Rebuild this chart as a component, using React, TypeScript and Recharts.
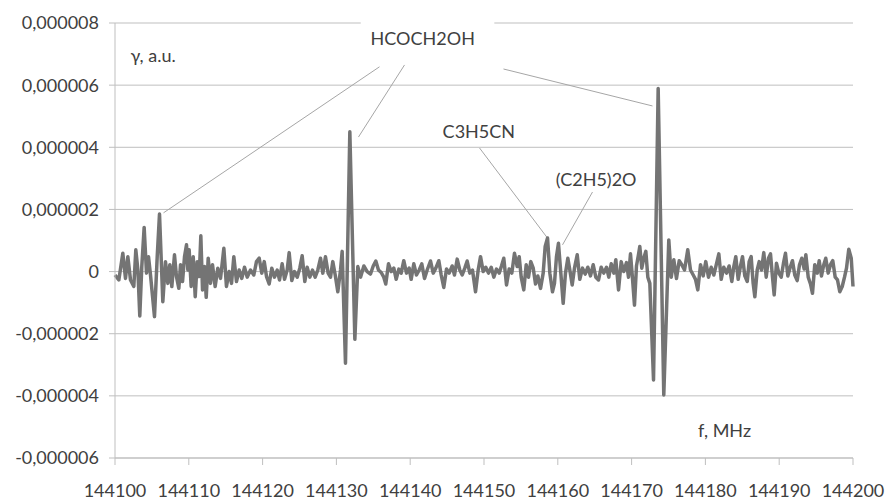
import { LineChart, Line, XAxis, YAxis, CartesianGrid, ReferenceLine, ReferenceDot, ReferenceArea } from 'recharts';

// frequency, MHz
const freqs = [
  144100.0, 144100.52, 144101.06, 144101.42, 144101.74, 144102.1, 144102.55, 144102.82, 144103.1, 144103.36,
  144103.63, 144103.95, 144104.27, 144104.54, 144104.81, 144105.35, 144105.72, 144106.03, 144106.48, 144106.84,
  144107.16, 144107.43, 144107.7, 144108.06, 144108.33, 144108.65, 144108.88, 144109.15, 144109.42, 144109.69,
  144109.87, 144110.05, 144110.32, 144110.6, 144110.87, 144111.14, 144111.41, 144111.63, 144111.86, 144112.13,
  144112.36, 144112.63, 144112.94, 144113.21, 144113.57, 144113.93, 144114.3, 144114.75, 144115.1, 144115.47,
  144115.79, 144116.1, 144116.46, 144116.83, 144117.18, 144117.55, 144117.91, 144118.36, 144118.81, 144119.17,
  144119.54, 144119.89, 144120.22, 144120.53, 144120.89, 144121.25, 144121.61, 144121.98, 144122.29, 144122.65,
  144122.97, 144123.33, 144123.6, 144123.96, 144124.32, 144124.69, 144125.04, 144125.36, 144125.72, 144126.04,
  144126.4, 144126.76, 144127.12, 144127.48, 144127.85, 144128.16, 144128.52, 144128.88, 144129.2, 144129.51,
  144129.84, 144130.19, 144130.56, 144130.78, 144131.23, 144131.82, 144132.5, 144132.9, 144133.27, 144133.72,
  144134.17, 144134.62, 144134.99, 144135.34, 144135.7, 144136.07, 144136.42, 144136.69, 144137.06, 144137.43,
  144137.78, 144138.1, 144138.46, 144138.78, 144139.13, 144139.5, 144139.86, 144140.13, 144140.49, 144140.85,
  144141.22, 144141.57, 144141.94, 144142.3, 144142.75, 144143.12, 144143.47, 144143.88, 144144.2, 144144.55,
  144144.92, 144145.28, 144145.69, 144146.0, 144146.37, 144146.72, 144147.05, 144147.4, 144147.72, 144148.08,
  144148.44, 144148.85, 144149.21, 144149.53, 144149.89, 144150.24, 144150.61, 144150.98, 144151.33, 144151.69,
  144152.06, 144152.37, 144152.68, 144153.05, 144153.41, 144153.77, 144154.13, 144154.5, 144154.77, 144155.04,
  144155.39, 144155.72, 144156.03, 144156.34, 144156.67, 144156.98, 144157.29, 144157.66, 144158.02, 144158.29,
  144158.61, 144158.92, 144159.28, 144159.55, 144159.82, 144160.09, 144160.41, 144160.73, 144161.04, 144161.36,
  144161.63, 144161.95, 144162.26, 144162.63, 144162.98, 144163.35, 144163.71, 144164.07, 144164.43, 144164.8,
  144165.15, 144165.52, 144165.88, 144166.23, 144166.6, 144166.91, 144167.24, 144167.59, 144167.86, 144168.23,
  144168.59, 144168.94, 144169.31, 144169.58, 144169.85, 144170.12, 144170.39, 144170.66, 144170.93, 144171.11,
  144171.38, 144171.65, 144171.93, 144172.2, 144172.47, 144172.97, 144173.6, 144174.36, 144175.04, 144175.37,
  144175.72, 144176.08, 144176.45, 144176.8, 144177.17, 144177.61, 144177.98, 144178.35, 144178.66, 144178.97,
  144179.34, 144179.7, 144180.05, 144180.42, 144180.79, 144181.14, 144181.5, 144181.82, 144182.14, 144182.49,
  144182.86, 144183.22, 144183.58, 144183.85, 144184.12, 144184.44, 144184.76, 144185.03, 144185.34, 144185.67,
  144185.93, 144186.2, 144186.47, 144186.7, 144187.02, 144187.29, 144187.6, 144187.91, 144188.24, 144188.55,
  144188.82, 144189.09, 144189.32, 144189.63, 144189.95, 144190.27, 144190.58, 144190.85, 144191.17, 144191.49,
  144191.8, 144192.11, 144192.44, 144192.75, 144193.06, 144193.39, 144193.61, 144193.93, 144194.24, 144194.51,
  144194.82, 144195.15, 144195.42, 144195.73, 144196.04, 144196.31, 144196.64, 144196.95, 144197.26, 144197.59,
  144197.9, 144198.21, 144198.54, 144198.85, 144199.12, 144199.43, 144199.76, 144200.0,
];

// gamma in units of 1e-6 a.u.
const gammaMicro = [
  -0.11, -0.27, 0.59, -0.22, 0.48, -0.27, -0.48, 0.7, 0.05, -1.43,
  0.16, 1.42, -0.05, 0.48, -0.11, -1.45, 0.48, 1.85, -0.97, 0.32,
  -0.38, 0.22, -0.48, 0.54, -0.16, -0.54, 0.22, -0.32, 0.48, 0.86,
  0.05, 0.7, -0.48, 0.48, -0.81, 0.32, -0.16, 1.15, -0.59, 0.16,
  -0.83, 0.43, -0.38, 0.22, -0.48, 0.11, -0.22, 0.75, -0.48, 0.0,
  -0.38, 0.48, -0.32, 0.05, -0.22, 0.14, -0.18, 0.05, -0.11, 0.32,
  0.43, -0.05, 0.32, -0.16, -0.4, 0.11, -0.18, 0.05, -0.27, 0.25,
  -0.25, 0.05, 0.61, -0.29, 0.0, -0.18, 0.11, 0.51, -0.32, 0.14,
  -0.18, 0.05, -0.18, 0.05, 0.43, -0.05, 0.48, -0.05, -0.18, 0.32,
  -0.11, -0.65, 0.05, 0.65, -2.95, 4.5, -2.18, 0.16, -0.18, 0.18,
  0.0, -0.08, 0.18, 0.34, 0.05, -0.03, -0.18, -0.4, 0.25, 0.0,
  0.11, -0.25, 0.08, -0.05, 0.35, -0.05, 0.11, -0.25, 0.25, -0.11,
  0.05, 0.25, -0.22, 0.05, 0.34, -0.05, 0.11, 0.35, -0.11, -0.51,
  0.08, -0.05, 0.18, -0.11, 0.4, 0.05, -0.11, 0.11, 0.34, -0.05,
  0.05, -0.65, 0.05, 0.48, 0.0, 0.14, -0.05, 0.14, -0.18, 0.08,
  -0.05, 0.18, 0.43, -0.43, 0.08, -0.05, 0.59, 0.16, 0.48, -0.18,
  -0.59, 0.22, -0.18, 0.32, 0.11, -0.4, -0.14, -0.54, -0.05, 0.81,
  1.08, -0.05, -0.65, -0.38, 0.48, 0.91, -0.05, -1.02, -0.05, 0.43,
  0.05, -0.43, 0.11, 0.54, -0.25, 0.11, -0.08, 0.14, -0.14, 0.22,
  -0.18, -0.27, 0.14, -0.05, 0.14, -0.18, 0.25, -0.05, 0.38, -0.59,
  0.32, 0.0, 0.29, -0.18, 0.57, -0.22, -1.08, 0.18, 0.54, 0.81,
  0.11, 0.43, 0.65, -0.18, -0.38, -3.49, 5.89, -3.97, 1.02, -0.18,
  0.38, -0.22, 0.35, 0.22, 0.05, 0.7, 0.05, -0.11, -0.25, -0.59,
  0.22, -0.14, 0.32, -0.18, 0.14, -0.11, 0.25, 0.57, -0.25, 0.14,
  -0.05, 0.18, -0.32, 0.16, 0.48, -0.25, 0.18, 0.48, -0.14, -0.32,
  0.32, 0.48, -0.38, -0.81, 0.05, 0.32, 0.05, 0.61, -0.18, 0.43,
  0.57, -0.18, -0.75, 0.27, -0.05, -0.18, 0.27, 0.59, -0.14, 0.14,
  0.35, -0.11, -0.29, 0.22, 0.43, 0.08, 0.54, -0.18, -0.4, -0.7,
  0.22, -0.05, 0.35, -0.14, 0.22, 0.43, -0.05, 0.22, 0.35, -0.18,
  -0.27, -0.65, -0.48, -0.18, 0.11, 0.72, 0.43, -0.48,
];

const freqTicks = [144100, 144110, 144120, 144130, 144140, 144150, 144160, 144170, 144180, 144190, 144200];
const gammaTicks = [-6, -4, -2, 0, 2, 4, 6, 8];

const FONT = 'Lato, "Open Sans", sans-serif';
const TEXT = '#404040';
const GRID = '#bfbfbf';

const table = freqs.map((f, i) => ({ f, g: gammaMicro[i] }));

const fmtGamma = (v: number) => (v === 0 ? '0' : (v * 1e-6).toFixed(6).replace('.', ','));

// annotation texts, placed in data space
const notes = [
  { text: 'HCOCH2OH', f: 144141.7, g: 7.52, anchor: 'middle' },
  { text: 'γ, a.u.', f: 144102.1, g: 6.97, anchor: 'start' },
  { text: 'C3H5CN', f: 144149.3, g: 4.53, anchor: 'middle' },
  { text: '(C2H5)2O', f: 144165.2, g: 2.98, anchor: 'middle' },
  { text: 'f, MHz', f: 144182.6, g: -5.1, anchor: 'middle' },
];

// leader lines from labels to peaks
const leaders = [
  [{ x: 144135.84, y: 6.59 }, { x: 144106.57, y: 1.89 }],
  [{ x: 144139.23, y: 6.65 }, { x: 144132.99, y: 4.33 }],
  [{ x: 144152.64, y: 6.52 }, { x: 144172.83, y: 5.33 }],
  [{ x: 144149.39, y: 3.98 }, { x: 144158.6, y: 1.08 }],
  [{ x: 144164.7, y: 2.56 }, { x: 144160.64, y: 0.86 }],
];

const noteShape = (text: string, anchor: string) => (props: any) => (
  <text
    x={props.cx}
    y={props.cy}
    textAnchor={anchor}
    dominantBaseline="central"
    fontSize={18}
    fontFamily={FONT}
    fill={TEXT}
  >
    {text}
  </text>
);

export default function App() {
  return (
    <div style={{ position: 'absolute', left: 0, top: 0, width: 888, height: 500, background: '#fff' }}>
      <LineChart width={888} height={500} data={table} margin={{ top: 23, right: 35, bottom: 0, left: 0 }}>
        <CartesianGrid vertical={false} stroke={GRID} />
        <XAxis
          dataKey="f"
          type="number"
          domain={[144100, 144200]}
          ticks={freqTicks}
          interval={0}
          height={42}
          tickSize={7}
          tickMargin={19}
          axisLine={{ stroke: GRID }}
          tickLine={{ stroke: GRID }}
          tick={{ fill: TEXT, fontSize: 18, fontFamily: FONT }}
        />
        <YAxis
          type="number"
          domain={[-6, 8]}
          ticks={gammaTicks}
          interval={0}
          width={115}
          tickSize={6}
          tickMargin={10}
          tickFormatter={fmtGamma}
          axisLine={{ stroke: GRID }}
          tickLine={{ stroke: GRID }}
          tick={{ fill: TEXT, fontSize: 18, fontFamily: FONT }}
        />
        <ReferenceArea
          x1={144133.3}
          x2={144151.4}
          y1={6.8}
          y2={8.2}
          fill="#fff"
          fillOpacity={1}
          stroke="none"
          ifOverflow="visible"
        />
        {leaders.map((seg, i) => (
          <ReferenceLine key={`lead-${i}`} segment={seg} stroke="#a6a6a6" strokeWidth={1} />
        ))}
        <Line
          type="linear"
          dataKey="g"
          stroke="#747474"
          strokeWidth={3.5}
          strokeLinejoin="round"
          dot={false}
          isAnimationActive={false}
        />
        {notes.map((n) => (
          <ReferenceDot key={n.text} x={n.f} y={n.g} r={0} shape={noteShape(n.text, n.anchor)} />
        ))}
      </LineChart>
    </div>
  );
}
